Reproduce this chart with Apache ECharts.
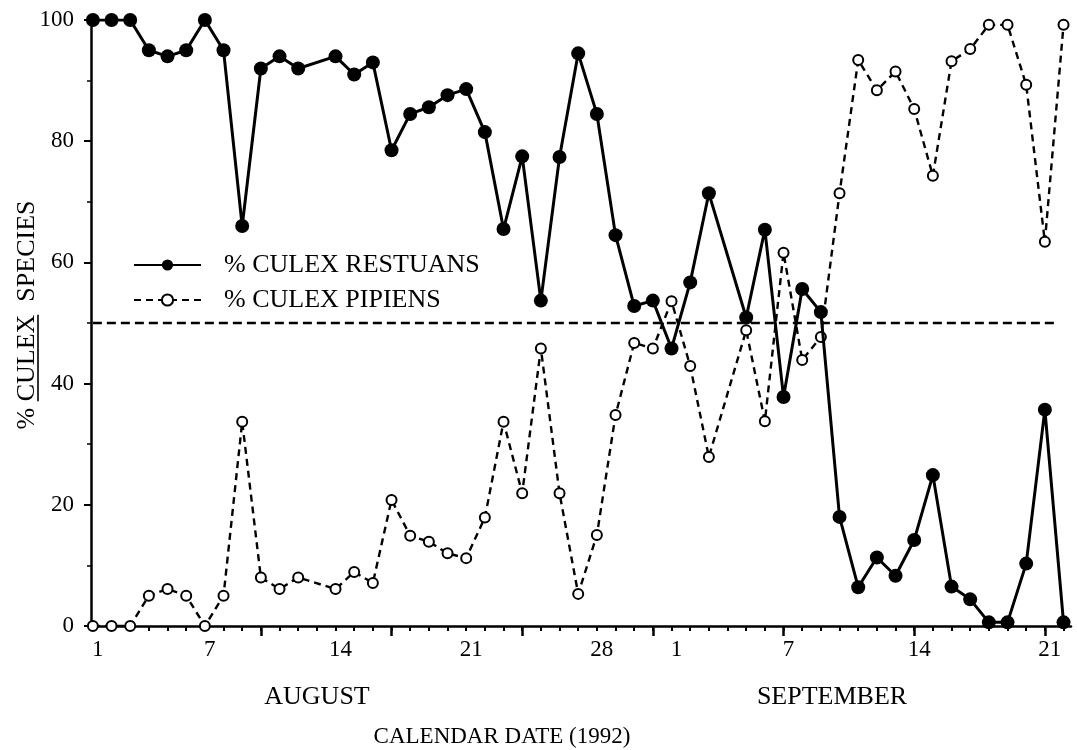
<!DOCTYPE html>
<html><head><meta charset="utf-8">
<script src="https://cdn.jsdelivr.net/npm/echarts@6/dist/echarts.min.js"></script>
<style>html,body{margin:0;padding:0;background:#fff}#c{width:1077px;height:750px}</style>
</head><body><div id="c"></div>
<script>
// Day of season: 1 = August 1, 32 = September 1
const days = [1,2,3,4,5,6,7,8,9,10,11,12,
  14,15,16,17,18,19,20,21,22,23,24,25,26,27,28,29,30,31,
  32,33,34,
  36,37,38,39,40,41,42,43,44,45,46,47,48,49,50,51,52,53];
const restuans = [100,100,100,95,94,95,100,95,66,92,94,92,
  94,91,93,78.5,84.5,85.6,87.6,88.6,81.5,65.5,77.5,53.7,77.4,94.5,84.5,64.5,52.8,53.7,
  45.8,56.7,71.4,
  50.9,65.4,37.8,55.6,51.8,18,6.4,11.3,8.3,14.2,24.9,6.5,4.4,0.6,0.6,10.3,35.7,0.6];
const pipiens = [0,0,0,5,6.1,5,0,5,33.7,8,6.1,8,
  6.1,8.9,7.1,20.8,14.9,13.9,12,11.2,17.9,33.7,21.9,45.8,21.9,5.3,15,34.8,46.7,45.8,
  53.6,42.9,27.9,
  48.8,33.8,61.6,43.9,47.7,71.4,93.4,88.4,91.5,85.3,74.3,93.2,95.2,99.2,99.2,89.3,63.4,99.2];
const labelDays = [1,7,14,21,28,32,38,45,52];
const labelTexts = ['1','7','14','21','28','1','7','14','21'];
const majorTickDays = [10,17,24,31,38,45,52];
const minorTickDays = Array.from({length:53},(_,i)=>i+1);
const referenceLevel = 50;
const seriesNames = ['% CULEX RESTUANS','% CULEX PIPIENS'];
const monthNames = ['AUGUST','SEPTEMBER'];
const xTitle = 'CALENDAR DATE (1992)';

const FONT = '"Liberation Serif", "DejaVu Serif", serif';
const chart = echarts.init(document.getElementById('c'));

function tw(t, size){
  const c = document.createElement('canvas').getContext('2d');
  c.font = size + 'px ' + FONT;
  return c.measureText(t).width;
}
const ys = 26;
const wPct = tw('% ', ys), wCul = tw('CULEX', ys), wGap = tw('  ', ys), wSpe = tw('SPECIES', ys);
const total = wPct + wCul + wGap + wSpe;
const x0 = -total/2;

const axisCommon = {
  type: 'value', min: 0.9, max: 53.4, splitLine: {show:false}
};
const capFont = '26px ' + FONT;

chart.setOption({
  animation: false,
  backgroundColor: '#fff',
  grid: {left: 91, right: 6, top: 20, bottom: 124, containLabel: false},
  xAxis: [
    Object.assign({}, axisCommon, {
      position: 'bottom',
      axisLine: {show: true, lineStyle: {color: '#000', width: 2.5}},
      axisTick: {show: true, customValues: minorTickDays, length: 5, lineStyle: {color:'#000', width: 2}},
      axisLabel: {show: true, customValues: labelDays, margin: 12, padding: [0,0,0,10],
        color: '#000', fontSize: 23, fontFamily: FONT,
        formatter: v => labelTexts[labelDays.indexOf(v)]}
    }),
    Object.assign({}, axisCommon, {
      position: 'bottom',
      axisLine: {show: false},
      axisTick: {show: true, customValues: majorTickDays, length: 10, lineStyle: {color:'#000', width: 2.5}},
      axisLabel: {show: false}
    })
  ],
  yAxis: {
    type: 'value', min: 0, max: 100, interval: 20,
    splitLine: {show:false},
    axisLine: {show: true, lineStyle: {color: '#000', width: 2.5}},
    axisTick: {show: true, length: 7, lineStyle: {color:'#000', width: 2}},
    minorTick: {show: true, splitNumber: 2, length: 4, lineStyle: {color:'#000', width: 1.5}},
    axisLabel: {color: '#000', fontSize: 23, fontFamily: FONT, margin: 17}
  },
  legend: {
    orient: 'vertical', left: 133, top: 252, itemGap: 9, padding: 0,
    itemWidth: 67, itemHeight: 14,
    textStyle: {color: '#000', fontSize: 26, fontFamily: FONT, padding: [0,0,0,18]},
    data: seriesNames
  },
  series: [
    {
      name: seriesNames[0], type: 'line', xAxisIndex: 0,
      data: days.map((d,i)=>[d, restuans[i]]),
      symbol: 'circle', symbolSize: 14,
      itemStyle: {color: '#000'},
      lineStyle: {color: '#000', width: 3},
      z: 3,
      markLine: {
        silent: true, symbol: 'none', label: {show: false},
        lineStyle: {color: '#000', width: 2.3, type: [9,5]},
        data: [[{coord: [1, referenceLevel]}, {coord: [52.6, referenceLevel]}]]
      }
    },
    {
      name: seriesNames[1], type: 'line', xAxisIndex: 0,
      data: days.map((d,i)=>[d, pipiens[i]]),
      symbol: 'emptyCircle', symbolSize: 10,
      itemStyle: {color: '#000', borderWidth: 2.5},
      lineStyle: {color: '#000', width: 2.4, type: [7,5]},
      z: 2
    }
  ],
  graphic: [
    {type: 'text', style: {text: monthNames[0], x: 317, y: 697, font: capFont, fill: '#000', align: 'center', verticalAlign: 'middle'}},
    {type: 'text', style: {text: monthNames[1], x: 832, y: 697, font: capFont, fill: '#000', align: 'center', verticalAlign: 'middle'}},
    {type: 'text', style: {text: xTitle, x: 502, y: 737, font: '23px ' + FONT, fill: '#000', align: 'center', verticalAlign: 'middle'}},
    {
      type: 'group', x: 27, y: 315, rotation: Math.PI/2,
      children: [
        {type: 'text', style: {text: '%', x: x0, y: 0, font: ys + 'px ' + FONT, fill: '#000', align: 'left', verticalAlign: 'middle'}},
        {type: 'text', style: {text: 'CULEX', x: x0 + wPct, y: 0, font: ys + 'px ' + FONT, fill: '#000', align: 'left', verticalAlign: 'middle'}},
        {type: 'line', shape: {x1: x0 + wPct, y1: 11, x2: x0 + wPct + wCul, y2: 11}, style: {stroke: '#000', lineWidth: 1.6}},
        {type: 'text', style: {text: 'SPECIES', x: x0 + wPct + wCul + wGap, y: 0, font: ys + 'px ' + FONT, fill: '#000', align: 'left', verticalAlign: 'middle'}}
      ]
    }
  ]
});
</script></body></html>
